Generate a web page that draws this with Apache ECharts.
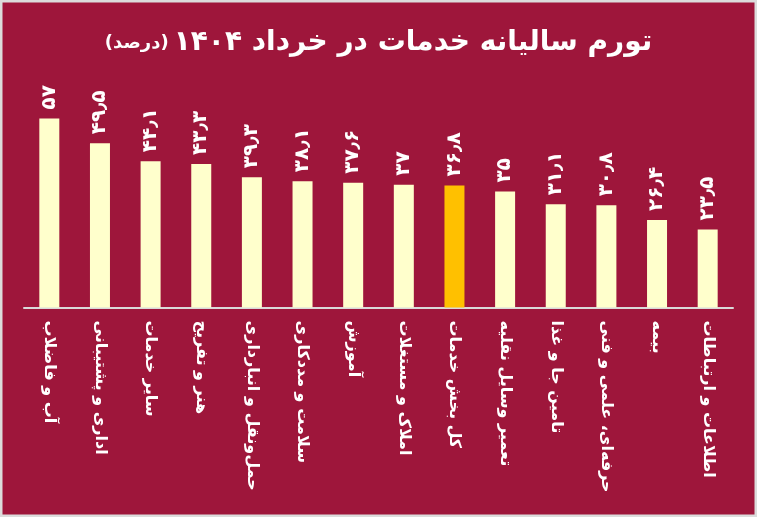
<!DOCTYPE html>
<html>
<head>
<meta charset="utf-8">
<script src="https://cdn.jsdelivr.net/npm/echarts@6/dist/echarts.min.js"></script>
<style>
html,body{margin:0;padding:0;background:#d9d9d9;}
#c{width:757px;height:517px;}
</style>
</head>
<body>
<div id="c"></div>
<script>
const categories = ["آب و فاضلاب","اداری و پشتیبانی","سایر خدمات","هنر و تفریح","حمل‌ونقل و انبارداری","سلامت و مددکاری","آموزش","املاک و مستغلات","کل بخش خدمات","تعمیر وسایل نقلیه","تامین جا و غذا","حرفه‌ای، علمی و فنی","بیمه","اطلاعات و ارتباطات"];
const values = [57, 49.5, 44.1, 43.3, 39.3, 38.1, 37.6, 37, 36.8, 35, 31.1, 30.8, 26.4, 23.5];
const highlightCategory = "کل بخش خدمات";
const titleMain = "تورم سالیانه خدمات در خرداد ۱۴۰۴";
const titleUnit = "(درصد)";

const fa = d => String(d).replace(/[0-9]/g, c => "۰۱۲۳۴۵۶۷۸۹"[+c]).replace(".", "٫");
const FONT = "DejaVu Sans";

const chart = echarts.init(document.getElementById('c'));
chart.setOption({
  backgroundColor: '#9e163b',
  animation: false,
  title: {
    text: '{u|' + titleUnit + '} {m|' + titleMain + '}',
    left: 'center',
    top: 24,
    textStyle: {
      rich: {
        m: {color: '#ffffff', fontSize: 28, fontWeight: 'bold', fontFamily: FONT},
        u: {color: '#ffffff', fontSize: 18, fontWeight: 'bold', fontFamily: FONT}
      }
    }
  },
  graphic: [{
    type: 'rect', silent: true, z: 100,
    shape: {x: 0, y: 0, width: 757, height: 517},
    style: {fill: 'none', stroke: '#dcdcdc', lineWidth: 5}
  }],
  grid: {left: 24, right: 24, top: 108.5, bottom: 209.5},
  xAxis: {
    type: 'category',
    data: categories,
    axisLine: {lineStyle: {color: '#d9d9d9', width: 2}},
    axisTick: {length: 7, lineStyle: {color: '#d9d9d9', width: 2}},
    axisLabel: {
      rotate: -90, interval: 0, margin: 13,
      color: '#ffffff', fontSize: 16, fontWeight: 'bold', fontFamily: FONT
    }
  },
  yAxis: {type: 'value', min: 0, max: 60, show: false, splitLine: {show: false}},
  series: [{
    type: 'bar',
    barWidth: 20,
    data: values.map((v, i) => ({
      value: v,
      itemStyle: {color: categories[i] === highlightCategory ? '#ffc000' : '#ffffcc'}
    })),
    label: {
      show: true, position: 'top', rotate: 90, distance: 9,
      align: 'left', verticalAlign: 'middle',
      color: '#ffffff', fontSize: 20, fontWeight: 'bold', fontFamily: FONT,
      formatter: p => fa(p.value)
    }
  }]
});
</script>
</body>
</html>
